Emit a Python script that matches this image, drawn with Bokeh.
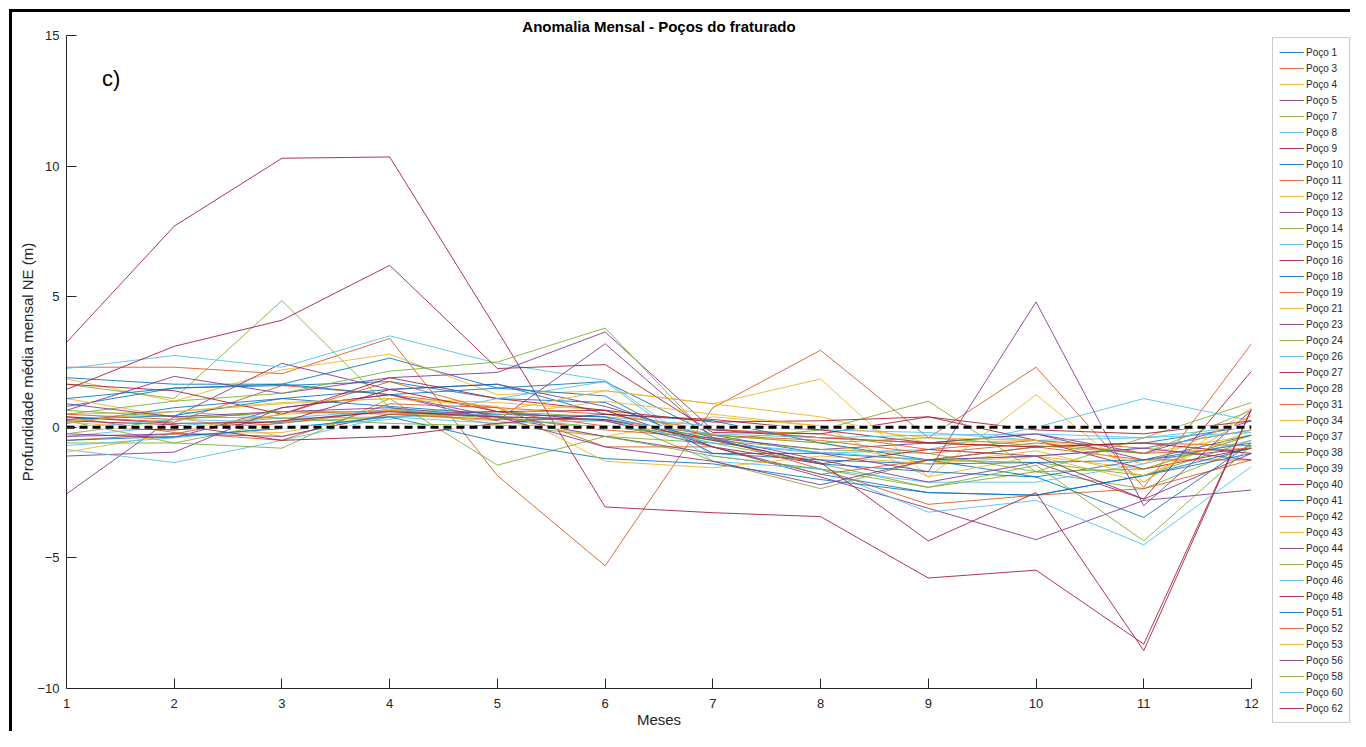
from bokeh.plotting import figure
from bokeh.layouts import row
from bokeh.models import Legend, LegendItem, Range1d, FixedTicker, Label
from bokeh.embed import file_html
from bokeh.resources import INLINE

# ---------------- data ----------------
months = [1, 2, 3, 4, 5, 6, 7, 8, 9, 10, 11, 12]
x_tick_labels = ["1", "2", "3", "4", "5", "6", "7", "8", "9", "10", "11", "12"]
y_ticks = [-10, -5, 0, 5, 10, 15]

well_names = ["Poço 1", "Poço 3", "Poço 4", "Poço 5", "Poço 7", "Poço 8", "Poço 9",
              "Poço 10", "Poço 11", "Poço 12", "Poço 13", "Poço 14", "Poço 15", "Poço 16",
              "Poço 18", "Poço 19", "Poço 21", "Poço 23", "Poço 24", "Poço 26", "Poço 27",
              "Poço 28", "Poço 31", "Poço 34", "Poço 37", "Poço 38", "Poço 39", "Poço 40",
              "Poço 41", "Poço 42", "Poço 43", "Poço 44", "Poço 45", "Poço 46", "Poço 48",
              "Poço 51", "Poço 52", "Poço 53", "Poço 56", "Poço 58", "Poço 60", "Poço 62"]

p01 = [1.9, 1.65, 1.65, 2.65, 1.5, 1.75, -0.3, -1.0, -1.25, -0.75, -0.6, 0.05]
p03 = [2.3, 2.3, 2.05, 3.4, -1.85, -5.3, 0.75, 2.95, -0.4, 2.3, -2.3, 3.2]
p04 = [1.85, 1.0, 2.2, 2.8, 1.25, 1.4, 0.9, 0.4, -0.6, -0.5, -1.0, -0.3]
p05 = [-2.55, 0.4, 2.45, 1.45, 1.65, 0.8, -0.4, -0.85, -0.6, -0.25, -1.25, -0.8]
p07 = [1.65, 1.1, 4.85, 0.75, 0.1, -0.35, -0.6, -1.4, -2.3, -1.7, -2.35, -0.7]
p08 = [2.25, 2.75, 2.3, 3.5, 2.45, 1.8, -1.1, -1.6, -2.1, -2.1, -1.4, -0.5]
p09 = [3.25, 7.7, 10.3, 10.35, 3.7, -3.05, -3.27, -3.42, -5.77, -5.47, -8.3, 0.7]
p10 = [0.8, 1.5, 1.6, 1.75, 1.1, 0.95, -0.75, -1.8, -2.5, -2.6, -1.85, -1.0]
p11 = [0.4, 0.2, 1.6, 1.25, 0.75, 0.5, -0.1, -0.25, -0.85, -0.5, -0.8, -0.1]
p12 = [0.5, 0.6, 0.9, 1.1, 0.95, 0.65, -0.3, -0.6, -1.4, -1.1, -1.6, -0.3]
p13 = [0.65, 1.95, 1.3, 1.9, 2.1, 3.65, -0.1, -0.4, -0.6, -0.25, -1.0, 0.25]
p14 = [0.25, -0.6, 0.2, 0.4, 0.6, 0.4, -1.3, -2.35, -1.25, -1.35, -1.85, -0.5]
p15 = [-0.35, 0.05, 0.35, 0.65, 0.4, 0.25, -0.6, -1.0, -0.85, 0.0, 1.1, 0.25]
p16 = [1.45, 3.1, 4.1, 6.2, 2.25, 2.4, -0.2, -0.25, 0.4, -0.5, -1.6, -0.8]
p18 = [0.15, 0.75, 1.1, 1.45, 1.65, 0.5, 0.25, -0.6, -1.25, -1.9, -1.25, -0.6]
p19 = [-0.5, -0.25, 0.5, 1.75, 0.6, 0.05, -0.05, -0.4, -0.6, -0.75, -0.6, -0.7]
p21 = [1.1, 0.4, -0.35, 0.5, 0.25, -0.35, 0.4, 0.05, -1.9, -1.1, -2.1, 0.45]
p23 = [-0.25, -0.4, 0.75, 1.25, 0.25, 3.2, -0.4, -1.25, -2.1, -1.35, -2.75, -1.0]
p24 = [0.5, 1.0, 1.3, 2.15, 2.5, 3.8, -0.5, -0.85, -1.0, -1.7, -1.6, -0.3]
p26 = [0.3, 0.6, 0.35, 0.4, 0.5, 0.4, 0.05, -0.1, -0.2, -0.5, -0.4, 0.05]
p27 = [1.65, 1.4, 0.5, 1.9, 1.1, 0.65, -0.75, -1.4, -0.85, -1.1, -2.75, 2.15]
p28 = [1.1, 1.5, 1.65, 1.25, 1.5, 1.2, -1.0, -1.25, -1.4, -1.35, -1.25, -0.3]
p31 = [0.05, -0.1, 0.15, 0.65, 0.4, -0.1, -0.4, -1.6, -2.95, -2.6, -2.35, -1.25]
p34 = [0.2, -0.1, 0.5, 0.65, 0.6, 1.4, 0.9, 1.85, -1.9, 1.25, -2.1, 0.75]
p37 = [-1.1, -0.95, 0.75, 1.25, 0.4, -0.35, -1.0, -1.0, -1.7, 4.8, -3.0, 0.65]
p38 = [0.65, 0.4, 0.35, 0.15, 0.05, 0.05, -0.5, -0.1, 1.0, -1.7, -0.4, 0.95]
p39 = [-0.85, -1.35, -0.5, 0.4, 0.15, 0.25, -0.6, -0.95, -1.25, -1.1, -0.8, -0.1]
p40 = [0.4, 0.15, 0.2, 1.45, 0.6, 0.65, 0.2, 0.25, 0.4, -0.1, -0.25, 0.25]
p41 = [0.3, 0.45, 1.1, 0.8, 0.5, 0.4, -0.45, -1.4, -1.7, -1.9, -3.45, -0.6]
p42 = [0.4, -0.2, -0.5, 0.9, 0.75, -0.75, -0.75, -1.8, -1.25, -0.75, -1.25, -1.25]
p43 = [-0.95, -0.25, -0.2, 0.5, 0.45, 1.0, 0.5, 0.05, -0.4, -0.5, -1.4, 0.45]
p44 = [-0.35, -0.25, -0.35, 0.5, 0.6, 0.25, -0.75, -1.9, -3.1, -4.3, -2.8, -2.4]
p45 = [-0.6, -0.6, -0.8, 1.1, -1.45, -0.35, -1.1, -1.6, -2.3, -1.45, -4.35, -0.7]
p46 = [-0.7, -0.4, 0.0, 0.3, 1.1, 1.75, -1.3, -1.6, -3.25, -2.8, -4.5, -1.5]
p48 = [0.25, 0.1, -0.5, -0.35, 0.15, 0.5, 0.3, -0.1, -0.6, -0.75, -0.6, -1.0]
p51 = [-0.5, -0.35, -0.05, 0.4, -0.55, -1.2, -1.4, -2.0, -2.5, -2.6, -1.85, -0.8]
p52 = [0.5, 0.3, 0.6, 0.5, 0.3, 0.3, -0.3, -0.5, -1.0, -0.6, -1.0, -0.8]
p53 = [0.2, 0.6, 0.95, 1.1, 0.8, -1.3, -1.55, -1.1, -1.4, -0.9, -1.85, -0.1]
p56 = [0.9, 0.4, 0.6, 0.75, 0.4, -0.75, -1.3, -2.2, -1.25, -1.1, -0.8, -1.25]
p58 = [-0.25, 0.3, 0.6, 0.6, 0.35, 0.0, -0.3, -0.6, -0.4, -0.7, -1.0, 0.65]
p60 = [-0.05, 0.3, 0.2, 0.7, 0.4, 0.3, -0.25, -0.4, -0.3, -0.25, -0.4, -0.2]
p62 = [0.0, -0.1, 0.25, 0.6, 0.4, 0.3, -0.5, -1.35, -4.35, -2.5, -8.55, 0.7]

zero_line = [0, 0, 0, 0, 0, 0, 0, 0, 0, 0, 0, 0]

series_values = [p01, p03, p04, p05, p07, p08, p09, p10, p11, p12, p13, p14, p15, p16,
                 p18, p19, p21, p23, p24, p26, p27, p28, p31, p34, p37, p38, p39, p40,
                 p41, p42, p43, p44, p45, p46, p48, p51, p52, p53, p56, p58, p60, p62]

# MATLAB default colour order
palette = ["#0072BD", "#D95319", "#EDB120", "#7E2F8E", "#77AC30", "#4DBEEE", "#A2142F"]

FONT = "Liberation Sans"
AXC = "#262626"
H = 731

# ---------------- main plot ----------------
p = figure(width=1262, height=H,
           x_range=Range1d(1, 12), y_range=Range1d(-10, 15),
           output_backend="svg", toolbar_location=None,
           min_border_left=66, min_border_right=11, min_border_top=35, min_border_bottom=43,
           title="Anomalia Mensal - Poços do fraturado")
# transparent canvas; thick black frame line (top / left) painted behind it
p.border_fill_alpha = 0
p.background_fill_alpha = 0
p.styles = {
    "background-color": "#ffffff",
    "background-repeat": "no-repeat",
    "background-image": (
        "linear-gradient(to bottom, #fff 0px, #fff 9px, transparent 9px),"
        "linear-gradient(to right, #fff 0px, #fff 9px, #000 9px, #000 12px, transparent 12px),"
        "linear-gradient(to bottom, #fff 0px, #fff 9px, #000 9px, #000 12px, #fff 12px)"
    ),
}

p.title.align = "center"
p.title.text_font = FONT
p.title.text_font_size = "15px"
p.title.text_font_style = "bold"
p.title.text_color = "#000000"
p.title.standoff = 2

p.xgrid.visible = False
p.ygrid.visible = False
p.outline_line_color = None

for ax in (p.xaxis[0], p.yaxis[0]):
    ax.major_tick_in = 10
    ax.major_tick_out = 0
    ax.minor_tick_line_color = None
    ax.axis_line_color = AXC
    ax.major_tick_line_color = AXC
    ax.major_label_text_color = AXC
    ax.major_label_text_font = FONT
    ax.major_label_text_font_size = "13px"
    ax.axis_label_text_font = FONT
    ax.axis_label_text_font_size = "15px"
    ax.axis_label_text_font_style = "normal"
    ax.axis_label_text_color = AXC

p.xaxis.ticker = FixedTicker(ticks=months)
p.xaxis.major_label_overrides = {m: t for m, t in zip(months, x_tick_labels)}
p.yaxis.ticker = FixedTicker(ticks=y_ticks)
p.xaxis.axis_label = "Meses"
p.yaxis.axis_label = "Profundidade média mensal NE (m)"
p.xaxis.major_label_standoff = 10
p.yaxis.major_label_standoff = 7
p.xaxis.axis_label_standoff = 0
p.yaxis.axis_label_standoff = -2

for i, vals in enumerate(series_values):
    p.line(months, vals, line_color=palette[i % 7], line_width=1, line_alpha=0.85)

p.line(months, zero_line, line_color="white", line_width=3)
p.line(months, zero_line, line_color="black", line_width=3, line_dash="8 5")

p.add_layout(Label(x=1.33, y=13.35, text="c)", text_font=FONT, text_font_size="22px",
                   text_baseline="middle", text_color="#000000"))

# ---------------- legend strip ----------------
lf = figure(width=88, height=H, x_range=Range1d(100, 101), y_range=Range1d(100, 101),
            x_axis_type=None, y_axis_type=None,
            output_backend="svg", toolbar_location=None,
            min_border_left=0, min_border_right=0, min_border_top=0, min_border_bottom=0)
lf.frame_align = False
lf.border_fill_alpha = 0
lf.background_fill_alpha = 0
lf.outline_line_color = None
lf.xgrid.visible = False
lf.ygrid.visible = False
lf.styles = {
    "background-color": "#ffffff",
    "background-repeat": "no-repeat",
    "background-image": "linear-gradient(to bottom, #fff 0px, #fff 9px, #000 9px, #000 12px, #fff 12px)",
}

items = []
for i, (name, vals) in enumerate(zip(well_names, series_values)):
    # same series, drawn far outside this strip's ranges: only the legend handle shows
    r = lf.line(months, vals, line_color=palette[i % 7], line_width=1, line_alpha=0.85)
    items.append(LegendItem(label=name, renderers=[r]))

legend = Legend(items=items, location=(10, 8), ncols=1)
legend.label_text_font = FONT
legend.label_text_font_size = "10px"
legend.label_text_color = AXC
legend.glyph_width = 25
legend.glyph_height = 16
legend.label_height = 16
legend.label_standoff = 2
legend.spacing = 0
legend.padding = 6
legend.margin = 0
legend.border_line_color = "#9a9a9a"
legend.border_line_width = 1
legend.background_fill_color = "white"
legend.background_fill_alpha = 1
lf.add_layout(legend, "center")

layout = row(p, lf, spacing=0)

open("out.html", "w").write(file_html(layout, INLINE))
